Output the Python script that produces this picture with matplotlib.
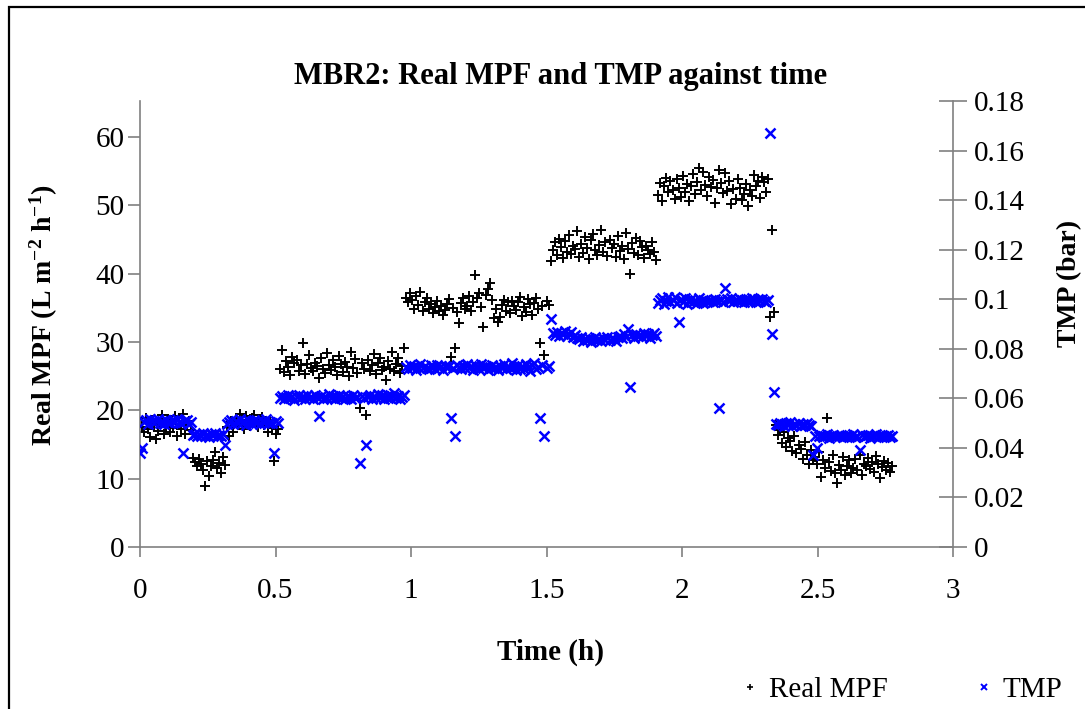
import numpy as np
import matplotlib
matplotlib.use('Agg')
import matplotlib.pyplot as plt
from matplotlib.lines import Line2D
from matplotlib.patches import Rectangle

plt.rcParams['font.family'] = ['Liberation Serif', 'DejaVu Serif']
plt.rcParams['mathtext.fontset'] = 'custom'
plt.rcParams['mathtext.rm'] = 'Liberation Serif'
plt.rcParams['mathtext.bf'] = 'Liberation Serif:bold'
plt.rcParams['mathtext.default'] = 'bf'

# ---------------- data ----------------
SAMPLE_INTERVAL_H = 0.0075   # logging interval, hours

# Real MPF (L m-2 h-1), one list per flux step
mpf_a = [18.3, 17.5, 16.8, 18.9, 17.2, 16.1, 18.6, 17.8, 15.8, 17.0, 18.2, 19.3, 16.5,
         17.6, 18.8, 16.9, 17.4, 19.2, 16.2, 18.0, 17.3, 19.4, 16.6, 17.9, 18.5, 17.1]
mpf_b = [13.0, 12.4, 11.8, 12.9, 12.1, 11.3, 9.0, 12.6, 10.4, 11.9, 12.8, 13.9, 11.5,
         12.3, 10.8, 13.2, 12.0]
mpf_c = [17.6, 16.2, 18.4, 16.8, 18.9, 17.9, 19.5, 18.2, 17.3, 19.1, 18.6, 17.7, 18.9,
         19.3, 18.1, 17.5, 18.7, 19.0, 17.8, 18.3, 16.9, 18.6, 17.4, 12.6, 16.5, 17.2]
mpf_d = [26.1, 28.8, 25.6, 27.2, 26.4, 25.1, 27.8, 26.9, 27.4, 25.8, 26.6, 29.9, 25.3,
         26.8, 28.1, 26.2, 25.7, 27.0, 26.5, 24.7, 27.6, 26.0, 25.4, 28.4, 26.7, 25.9,
         27.3, 26.3, 25.2, 27.9, 26.8, 25.6, 27.1, 26.4, 25.0, 28.6, 26.2, 27.5, 25.5,
         20.3, 26.9, 26.1, 19.3, 27.4, 25.8, 26.6, 28.2, 25.3, 26.9, 27.7, 25.9, 26.3,
         24.4, 27.2, 26.0, 28.5, 25.7, 26.8, 27.6, 25.4, 26.5, 29.1]
mpf_e = [36.5, 35.8, 37.1, 36.2, 34.9, 36.8, 35.4, 37.3, 34.6, 35.9, 36.4,
         34.8, 35.6, 34.2, 35.1, 36.0, 34.5, 35.3, 33.9, 34.7, 35.5,
         36.3, 27.8, 35.0, 29.1, 34.4, 32.8,
         35.7, 36.4, 34.9, 35.2, 36.8, 34.6, 35.9, 39.8,
         36.5, 37.2, 35.1, 32.2, 36.9, 37.8, 38.7, 36.1,
         33.5, 34.8, 33.0, 33.6, 35.4, 36.2, 34.5, 35.8,
         34.2, 36.0, 35.3, 34.7, 35.9, 36.6, 33.8, 35.1, 34.4, 36.3, 35.6, 34.0, 35.7,
         36.5, 34.9, 29.9, 35.2, 28.1, 36.0, 35.4]
mpf_f = [41.8, 43.5, 44.6, 42.7, 45.1, 43.9, 42.3, 44.8, 43.2, 45.6,
         42.9, 44.1, 43.6, 46.2, 42.5, 44.4, 43.0, 45.3, 43.8, 42.2,
         44.9, 45.8, 43.4, 42.8, 44.2, 46.4, 43.1, 44.7, 42.6, 45.0,
         43.7, 44.3, 42.4, 45.5, 43.3, 44.0, 42.1, 45.9, 43.6, 40.0,
         44.5, 43.0, 45.2, 42.7, 44.8, 43.9, 42.3, 44.1, 43.5, 42.9,
         44.6, 43.2, 42.0]
mpf_g = [51.5, 53.2, 50.6, 52.8, 54.0, 51.9, 53.6, 52.3, 50.9, 53.8,
         52.6, 51.2, 54.3, 52.0, 53.1, 50.7, 52.9, 54.6, 51.6, 53.4,
         55.4, 52.2, 54.9, 53.0, 51.4, 54.2, 52.7, 53.7, 50.4, 52.5,
         55.2, 53.3, 51.8, 54.7, 52.1, 53.5, 50.2, 52.4, 51.0, 53.9,
         52.6, 50.8, 51.7, 53.1, 49.9, 52.3, 51.3, 54.4, 52.9, 53.6,
         51.1, 54.1, 53.4, 52.0, 53.8]
mpf_h = [33.7, 46.4, 34.4, 17.8, 16.4, 17.1, 15.2, 16.9, 14.6, 16.0, 15.5, 14.1,
         16.3, 13.8, 15.0, 14.4, 12.9, 15.3, 13.4, 12.2, 14.2, 12.7]
mpf_i = [13.2, 12.1, 13.9, 10.2, 12.8, 11.5, 18.9, 12.4, 11.1, 13.5,
         10.8, 9.4, 12.0, 11.3, 13.1, 10.6, 11.9, 12.7, 10.9, 11.6,
         12.9, 11.2, 13.4, 10.5, 12.2, 11.8, 13.0, 11.4, 12.5, 11.0,
         13.3, 12.1, 10.1, 11.7, 12.6, 11.3, 12.3, 11.0, 11.9]

# TMP (bar), same samples
tmp_a = [0.0380, 0.0400, 0.0505, 0.0512, 0.0498, 0.0515, 0.0508, 0.0502, 0.0510, 0.0518,
         0.0500, 0.0507, 0.0495, 0.0513, 0.0505, 0.0499, 0.0511, 0.0503, 0.0516, 0.0506,
         0.0501, 0.0380, 0.0509, 0.0514, 0.0497, 0.0506]
tmp_b = [0.0452, 0.0458, 0.0447, 0.0455, 0.0450, 0.0461, 0.0448, 0.0454, 0.0445, 0.0457,
         0.0451, 0.0459, 0.0446, 0.0453, 0.0449, 0.0456, 0.0410]
tmp_c = [0.0498, 0.0506, 0.0512, 0.0495, 0.0509, 0.0502, 0.0516, 0.0500, 0.0507, 0.0493,
         0.0511, 0.0504, 0.0498, 0.0514, 0.0501, 0.0508, 0.0496, 0.0510, 0.0503, 0.0515,
         0.0499, 0.0506, 0.0502, 0.0380, 0.0509, 0.0500]
tmp_d = [0.0602, 0.0611, 0.0598, 0.0607, 0.0615, 0.0600, 0.0609, 0.0595, 0.0604, 0.0613,
         0.0601, 0.0608, 0.0597, 0.0612, 0.0603, 0.0606, 0.0599, 0.0614, 0.0605, 0.0530,
         0.0610, 0.0598, 0.0607, 0.0602, 0.0616, 0.0600, 0.0609, 0.0596, 0.0605, 0.0612,
         0.0601, 0.0608, 0.0599, 0.0611, 0.0604, 0.0597, 0.0613, 0.0602, 0.0606, 0.0340,
         0.0610, 0.0600, 0.0410, 0.0607, 0.0615, 0.0598, 0.0609, 0.0603, 0.0618, 0.0601,
         0.0612, 0.0596, 0.0606, 0.0614, 0.0600, 0.0609, 0.0620, 0.0603, 0.0611, 0.0598,
         0.0607, 0.0613]
tmp_e = [0.0728, 0.0719, 0.0734, 0.0722, 0.0730, 0.0715, 0.0727, 0.0738, 0.0721, 0.0731,
         0.0724, 0.0717, 0.0733, 0.0726, 0.0720, 0.0736, 0.0723, 0.0729, 0.0716, 0.0732,
         0.0725, 0.0730, 0.0520, 0.0721, 0.0450, 0.0735, 0.0727, 0.0718, 0.0731, 0.0724,
         0.0740, 0.0722, 0.0729, 0.0714, 0.0733, 0.0726, 0.0719, 0.0737, 0.0723, 0.0730,
         0.0716, 0.0728, 0.0735, 0.0721, 0.0726, 0.0713, 0.0732, 0.0724, 0.0739, 0.0718,
         0.0729, 0.0722, 0.0742, 0.0727, 0.0715, 0.0734, 0.0720, 0.0731, 0.0717, 0.0738,
         0.0725, 0.0712, 0.0733, 0.0741, 0.0719, 0.0728, 0.0520, 0.0736, 0.0450, 0.0723,
         0.0730]
tmp_f = [0.0920, 0.0862, 0.0855, 0.0868, 0.0851, 0.0864, 0.0858, 0.0870, 0.0853, 0.0861,
         0.0866, 0.0849, 0.0857, 0.0845, 0.0838, 0.0847, 0.0832, 0.0841, 0.0836, 0.0844,
         0.0829, 0.0839, 0.0846, 0.0834, 0.0840, 0.0831, 0.0843, 0.0837, 0.0848, 0.0835,
         0.0842, 0.0838, 0.0833, 0.0846, 0.0851, 0.0844, 0.0858, 0.0849, 0.0880, 0.0646,
         0.0855, 0.0843, 0.0861, 0.0850, 0.0857, 0.0846, 0.0863, 0.0852, 0.0859, 0.0844,
         0.0856, 0.0862, 0.0850]
tmp_g = [0.0985, 0.0998, 0.1004, 0.0979, 0.0992, 0.1007, 0.0988, 0.0996, 0.1010, 0.0983,
         0.0908, 0.0999, 0.0990, 0.1005, 0.0981, 0.0994, 0.1002, 0.0987, 0.0997, 0.0984,
         0.1003, 0.0991, 0.0986, 0.0995, 0.0989, 0.0993, 0.0997, 0.0988, 0.1001, 0.0992,
         0.0560, 0.0996, 0.0990, 0.1045, 0.0999, 0.0993, 0.1004, 0.0989, 0.0997, 0.0991,
         0.1002, 0.0995, 0.0988, 0.1000, 0.0994, 0.0990, 0.1003, 0.0996, 0.0987, 0.0999,
         0.0992, 0.1001, 0.0994, 0.0989, 0.0997]
tmp_h = [0.1670, 0.0860, 0.0625, 0.0498, 0.0492, 0.0501, 0.0495, 0.0489, 0.0499, 0.0494,
         0.0503, 0.0490, 0.0497, 0.0493, 0.0500, 0.0488, 0.0496, 0.0491, 0.0499, 0.0494,
         0.0490, 0.0370]
tmp_i = [0.0450, 0.0400, 0.0446, 0.0452, 0.0443, 0.0449, 0.0455, 0.0441, 0.0447, 0.0453,
         0.0444, 0.0450, 0.0446, 0.0454, 0.0442, 0.0448, 0.0451, 0.0445, 0.0449, 0.0456,
         0.0443, 0.0447, 0.0390, 0.0452, 0.0444, 0.0448, 0.0453, 0.0441, 0.0450, 0.0446,
         0.0455, 0.0443, 0.0449, 0.0451, 0.0445, 0.0448, 0.0454, 0.0442, 0.0447]

x_ticks = [0, 0.5, 1, 1.5, 2, 2.5, 3]
x_tick_labels = ['0', '0.5', '1', '1.5', '2', '2.5', '3']
left_ticks = [0, 10, 20, 30, 40, 50, 60]
right_ticks = [0, 0.02, 0.04, 0.06, 0.08, 0.10, 0.12, 0.14, 0.16, 0.18]
right_tick_labels = ['0', '0.02', '0.04', '0.06', '0.08', '0.1', '0.12', '0.14', '0.16', '0.18']

# ---------------- assemble ----------------
real_mpf = np.concatenate([mpf_a, mpf_b, mpf_c, mpf_d, mpf_e, mpf_f, mpf_g, mpf_h, mpf_i])
tmp = np.concatenate([tmp_a, tmp_b, tmp_c, tmp_d, tmp_e, tmp_f, tmp_g, tmp_h, tmp_i])
time_h = np.arange(len(real_mpf)) * SAMPLE_INTERVAL_H

W, H = 1085, 709
fig = plt.figure(figsize=(W / 100, H / 100), dpi=100)
fig.patch.set_facecolor('white')

# outer chart border (extends past right/bottom edge as in the source)
fig.add_artist(Rectangle((9 / W, -0.2), 1.5, (H - 7) / H + 0.2, transform=fig.transFigure,
                         fill=False, edgecolor='black', linewidth=1.6))

ax = fig.add_axes([140 / W, 1 - 547 / H, 813 / W, 446 / H])
ax2 = ax.twinx()

FS = 21
axis_grey = '#808080'

ax.plot(time_h, real_mpf, linestyle='none', marker='+', color='black',
        markersize=7.5, markeredgewidth=1.4)
ax2.plot(time_h, tmp, linestyle='none', marker='x', color='#0000ff',
         markersize=6.5, markeredgewidth=1.8)

ax.set_xlim(0, 3)
ax.set_ylim(0, 65.27)
ax2.set_ylim(0, 0.18)

ax.set_xticks(x_ticks)
ax.set_xticklabels(x_tick_labels)
ax.set_yticks(left_ticks)
ax2.set_yticks(right_ticks)
ax2.set_yticklabels(right_tick_labels)

for s in ['top', 'right']:
    ax.spines[s].set_visible(False)
for s in ['top', 'left', 'bottom']:
    ax2.spines[s].set_visible(False)
for sp in [ax.spines['left'], ax.spines['bottom'], ax2.spines['right']]:
    sp.set_color(axis_grey)
    sp.set_linewidth(1.2)

ax.tick_params(axis='x', direction='out', length=7, width=1.2, color=axis_grey,
               labelsize=FS, pad=15)
ax.tick_params(axis='y', direction='out', length=9, width=1.2, color=axis_grey,
               labelsize=FS, pad=2)
ax2.tick_params(axis='y', direction='inout', length=20, width=1.2, color=axis_grey,
                labelsize=FS, pad=5)

ax.set_xlabel('Time (h)', fontsize=FS, fontweight='bold')
ax.xaxis.set_label_coords(0.5055, -0.205)
ax.set_ylabel(r'Real MPF (L m$^{-2}$ h$^{-1}$)', fontsize=20, fontweight='bold')
ax.yaxis.set_label_coords(-0.098, 0.52)
ax2.set_ylabel('TMP (bar)', fontsize=20, fontweight='bold', rotation=90)
ax2.yaxis.set_label_coords(1.128, 0.59)

ax.set_title('MBR2: Real MPF and TMP against time', fontsize=22, fontweight='bold',
             x=0.517, y=1.02)

handles = [Line2D([], [], linestyle='none', marker='+', color='black', markersize=5, markeredgewidth=1.2),
           Line2D([], [], linestyle='none', marker='x', color='#0000ff', markersize=4.5, markeredgewidth=1.4)]
fig.legend(handles, ['Real MPF', 'TMP'], loc='center left', ncol=2, frameon=False,
           bbox_to_anchor=(738 / W, 1 - 690 / H), fontsize=FS, handlelength=0.8,
           handletextpad=0.25, columnspacing=2.9, borderaxespad=0, borderpad=0)

fig.savefig('out.png', dpi=100, facecolor='white')
